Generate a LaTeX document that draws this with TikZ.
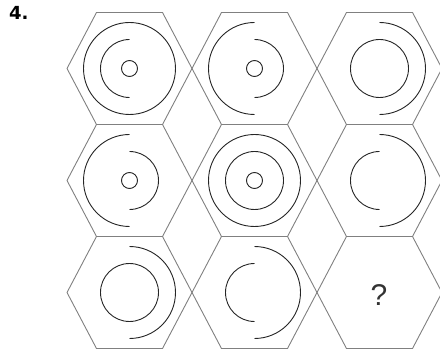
\documentclass[tikz,border=0pt]{standalone}
\usepackage{fontspec}
\setmainfont{Liberation Sans}
\newfontfamily\numfont{DejaVu Sans}

\begin{document}
\begin{tikzpicture}[x=1pt, y=-1pt, line join=round]
  \useasboundingbox (0,0) rectangle (440,350);
  % 問題番号
  \node[anchor=west, inner sep=0pt, font=\numfont\fontsize{18}{18}\selectfont\bfseries] (num) at (9,13) {4.};
  % 六角形の枠
  \foreach \cx in {129.5, 254.5, 379.5} {
    \foreach \cy in {68.5, 180.5, 292.5} {
      \draw[black!50, line width=0.9pt] (\cx-62.5,\cy) -- (\cx-33,\cy-56) -- (\cx+33,\cy-56)
        -- (\cx+62.5,\cy) -- (\cx+33,\cy+56) -- (\cx-33,\cy+56) -- cycle;
    }
  }
  % 円と弧
  \foreach \cx/\cy/\ma/\mb/\oa/\ob in {129.5/68.5/90/270/0/360, 254.5/68.5/-90/90/90/270,
      379.5/68.5/0/360/-90/90, 129.5/180.5/-90/90/90/270, 254.5/180.5/0/360/0/360,
      379.5/180.5/90/270/-90/90, 129.5/292.5/0/360/-90/90, 254.5/292.5/90/270/-90/90} {
    \draw[black!85, line width=0.9pt] (\cx,\cy) ++(\ma:29) arc[start angle=\ma, end angle=\mb, radius=29];
    \draw[black!85, line width=0.9pt] (\cx,\cy) ++(\oa:46) arc[start angle=\oa, end angle=\ob, radius=46];
  }
  % 中心の小円
  \foreach \cx/\cy in {129.5/68.5, 254.5/68.5, 129.5/180.5, 254.5/180.5} {
    \draw[black!85, line width=0.9pt] (\cx,\cy) circle[radius=8];
  }
  \node[font=\fontsize{30}{30}\selectfont, text=black!80, inner sep=0pt] (ask) at (379,295) {?};
\end{tikzpicture}
\end{document}
